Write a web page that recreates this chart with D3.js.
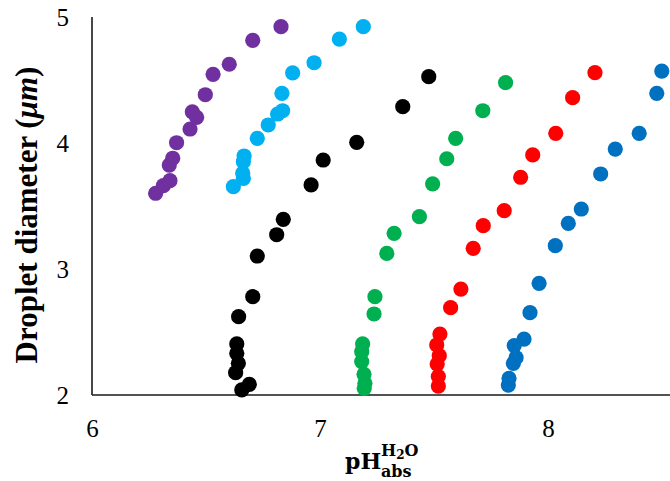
<!DOCTYPE html>
<html>
<head>
<meta charset="utf-8">
<script src="https://cdn.jsdelivr.net/npm/d3@7/dist/d3.min.js"></script>
<style>
  html, body { margin: 0; padding: 0; background: #fff; }
  svg { display: block; }
</style>
</head>
<body>
<svg id="chart" width="670" height="481"></svg>
<script>
// ---- data ----
const xTicks = [6, 7, 8];
const yTicks = [2, 3, 4, 5];
const seriesNames = ["purple", "cyan", "black", "green", "red", "blue"];
const seriesColors = ["#7030A0", "#00B0F0", "#000000", "#00B050", "#FF0000", "#0070C0"];

const purpleX = [6.279, 6.313, 6.342, 6.339, 6.354, 6.371, 6.430, 6.459, 6.440, 6.497, 6.531, 6.602, 6.705, 6.829];
const purpleY = [3.601, 3.661, 3.701, 3.825, 3.879, 4.002, 4.111, 4.204, 4.248, 4.383, 4.545, 4.625, 4.815, 4.923];

const cyanX = [6.620, 6.664, 6.661, 6.664, 6.667, 6.725, 6.773, 6.814, 6.836, 6.833, 6.880, 6.974, 7.085, 7.190];
const cyanY = [3.653, 3.720, 3.760, 3.852, 3.897, 4.037, 4.143, 4.230, 4.256, 4.394, 4.556, 4.637, 4.825, 4.923];

const blackX = [6.657, 6.690, 6.630, 6.642, 6.635, 6.635, 6.643, 6.705, 6.725, 6.810, 6.839, 6.961, 7.014, 7.161, 7.363, 7.477];
const blackY = [2.040, 2.085, 2.177, 2.251, 2.331, 2.405, 2.622, 2.780, 3.103, 3.272, 3.394, 3.667, 3.865, 4.005, 4.288, 4.526];

const greenX = [7.194, 7.197, 7.193, 7.183, 7.183, 7.187, 7.237, 7.241, 7.293, 7.325, 7.436, 7.494, 7.556, 7.595, 7.714, 7.814];
const greenY = [2.053, 2.093, 2.164, 2.265, 2.344, 2.405, 2.643, 2.780, 3.124, 3.283, 3.415, 3.675, 3.875, 4.037, 4.256, 4.479];

const redX = [7.519, 7.519, 7.514, 7.523, 7.512, 7.526, 7.573, 7.618, 7.672, 7.716, 7.808, 7.880, 7.933, 8.034, 8.108, 8.206];
const redY = [2.071, 2.146, 2.246, 2.312, 2.397, 2.484, 2.693, 2.841, 3.164, 3.344, 3.463, 3.728, 3.905, 4.077, 4.360, 4.558];

const blueX = [7.826, 7.829, 7.848, 7.860, 7.852, 7.895, 7.921, 7.961, 8.032, 8.089, 8.146, 8.231, 8.295, 8.400, 8.477, 8.499];
const blueY = [2.079, 2.132, 2.251, 2.296, 2.392, 2.444, 2.653, 2.886, 3.185, 3.362, 3.476, 3.754, 3.952, 4.077, 4.394, 4.571];

const seriesX = [purpleX, cyanX, blackX, greenX, redX, blueX];
const seriesY = [purpleY, cyanY, blackY, greenY, redY, blueY];

// ---- layout ----
const svg = d3.select("#chart");
const mLeft = 92, mRight = 670, mTop = 17, mBottom = 395;

const x = d3.scaleLinear().domain([6, 6 + (mRight - mLeft) / 228]).range([mLeft, mRight]);
const y = d3.scaleLinear().domain([2, 5]).range([mBottom, mTop]);

const serif = "'Liberation Serif', 'Times New Roman', serif";

// axes
const xAxis = d3.axisBottom(x).tickValues(xTicks).tickSize(0).tickPadding(24).tickFormat(d3.format("d"));
const yAxis = d3.axisLeft(y).tickValues(yTicks).tickSize(0).tickPadding(23).tickFormat(d3.format("d"));

const gx = svg.append("g").attr("transform", `translate(0,${mBottom})`).call(xAxis);
const gy = svg.append("g").attr("transform", `translate(${mLeft},0)`).call(yAxis);

[gx, gy].forEach(g => {
  g.select(".domain").attr("stroke", "#1a1a1a").attr("stroke-width", 1.6);
  g.selectAll("text").attr("font-family", serif).attr("font-size", 25).attr("fill", "#000");
});
gy.select(".domain").attr("d", `M0,${mBottom}V${mTop}`);
gx.select(".domain").attr("d", `M${mLeft},0H${mRight}`);

// points
const pts = [];
seriesX.forEach((xs, i) => xs.forEach((v, j) => pts.push({x: v, y: seriesY[i][j], c: seriesColors[i]})));
svg.append("g").selectAll("circle").data(pts).join("circle")
  .attr("cx", d => x(d.x))
  .attr("cy", d => y(d.y))
  .attr("r", 7.6)
  .attr("fill", d => d.c);

// y title
const yt = svg.append("text")
  .attr("transform", "translate(37,215) rotate(-90)")
  .attr("text-anchor", "middle")
  .attr("font-family", serif)
  .attr("font-weight", "bold")
  .attr("font-size", 31)
  .attr("fill", "#000");
yt.append("tspan").text("Droplet diameter (");
yt.append("tspan").attr("font-style", "italic").text("μm");
yt.append("tspan").text(")");

// x title
const xfont = "'DejaVu Serif', 'Liberation Serif', serif";
svg.append("text").attr("x", 345).attr("y", 469)
  .attr("font-family", xfont).attr("font-weight", "bold").attr("font-size", 22).attr("fill", "#000")
  .text("pH");
const sup = svg.append("text").attr("x", 381).attr("y", 456)
  .attr("font-family", xfont).attr("font-weight", "bold").attr("font-size", 16).attr("fill", "#000");
sup.append("tspan").text("H");
sup.append("tspan").attr("font-size", 12).attr("dy", 3).text("2");
sup.append("tspan").attr("dy", -3).text("O");
svg.append("text").attr("x", 381).attr("y", 477)
  .attr("font-family", xfont).attr("font-weight", "bold").attr("font-size", 16).attr("fill", "#000")
  .text("abs");
</script>
</body>
</html>
